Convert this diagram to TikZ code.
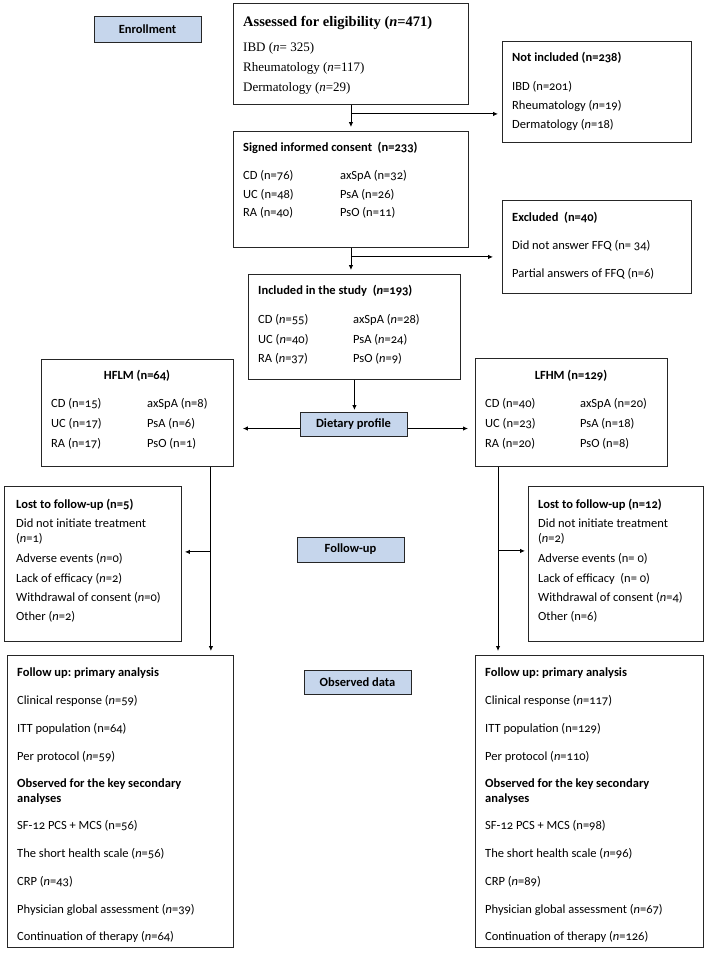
\documentclass[tikz,border=0pt]{standalone}
\usepackage{fontspec}
\newfontfamily\chartfont{Carlito}[Numbers=OldStyle]
\newfontfamily\assessfont{Liberation Serif}
\usetikzlibrary{positioning,calc,arrows.meta}
\definecolor{stageblue}{RGB}{198,214,236}
\newcommand{\nn}{\textit{n}}
\frenchspacing

\tikzset{
  box/.style={draw=black!85, line width=0.9pt, anchor=north west, inner sep=0pt},
  stage/.style={draw=black!85, line width=1pt, fill=stageblue, inner sep=0pt,
    font=\chartfont\fontsize{12.5}{15}\selectfont\bfseries},
  txt/.style={anchor=base west, inner sep=0pt, font=\chartfont\fontsize{12.5}{15}\selectfont},
  head/.style={txt, font=\chartfont\fontsize{12.5}{15}\selectfont\bfseries},
  sertxt/.style={anchor=base west, inner sep=0pt, font=\assessfont\fontsize{13}{15}\selectfont},
  flow/.style={-{Latex[length=5pt,width=4.5pt]}, line width=0.9pt, shorten >=4pt},
}

\begin{document}
\begin{tikzpicture}[x=1pt,y=-1pt]
    \useasboundingbox (0,0) rectangle (708,956);

    % enrollment
    \node[stage, minimum width=107pt, minimum height=26pt] (enrol) at (147.5,29) {Enrollment};
    \node[box, minimum width=235pt, minimum height=101pt] (assess) at (233,3) {};
    \node[sertxt, font=\assessfont\fontsize{14.5}{16}\selectfont\bfseries] (asshead) at (243,26) {Assessed for eligibility (\nn=471)};
    \foreach \y/\t [count=\i] in {51/{IBD (\nn= 325)}, 71/{Rheumatology (\nn=117)}, 91/{Dermatology (\nn=29)}}
        \node[sertxt] (ass\i) at (243,\y) {\t};

    \node[box, minimum width=189pt, minimum height=101pt] (notinc) at (502,41) {};
    \node[head] (nihead) at (512,61) {Not included (n=238)};
    \foreach \y/\t [count=\i] in {90/{IBD (n=201)}, 109/{Rheumatology (\nn=19)}, 128/{Dermatology (\nn=18)}}
        \node[txt] (ni\i) at (512,\y) {\t};

    \node[box, minimum width=235pt, minimum height=116pt] (signed) at (233,131) {};
    \node[head] (sghead) at (243,151) {Signed informed consent\ \ (n=233)};
    \node[txt] (sg1) at (243,179) {CD (n=76)};
    \node[txt] (sg2) at (243,198) {UC (n=48)};
    \node[txt] (sg3) at (243,216) {RA (n=40)};
    \node[txt] (sg4) at (340,179) {axSpA (n=32)};
    \node[txt] (sg5) at (340,198) {PsA (n=26)};
    \node[txt] (sg6) at (340,216) {PsO (n=11)};

    \node[box, minimum width=189pt, minimum height=93pt] (excl) at (502,200) {};
    \node[head] (exhead) at (512,221) {Excluded\ \ (n=40)};
    \node[txt] (ex1) at (512,249) {Did not answer FFQ (n= 34)};
    \node[txt] (ex2) at (512,277) {Partial answers of FFQ (n=6)};

    \node[box, minimum width=212pt, minimum height=105pt] (incl) at (248,274) {};
    \node[head] (inhead) at (258,294) {Included in the study\ \ (\nn=193)};
    \node[txt] (in1) at (258,323) {CD (\nn=55)};
    \node[txt] (in2) at (258,343) {UC (\nn=40)};
    \node[txt] (in3) at (258,362) {RA (\nn=37)};
    \node[txt] (in4) at (353,323) {axSpA (\nn=28)};
    \node[txt] (in5) at (353,343) {PsA (\nn=24)};
    \node[txt] (in6) at (353,362) {PsO (\nn=9)};

    % dietary profile
    \node[stage, minimum width=107pt, minimum height=24pt] (diet) at (353.5,424.5) {Dietary profile};

    \node[box, minimum width=192pt, minimum height=107pt] (hflm) at (41,359) {};
    \node[head, anchor=base] (hfhead) at (137,379) {HFLM (n=64)};
    \node[txt] (hf1) at (51,407) {CD (n=15)};
    \node[txt] (hf2) at (51,427) {UC (n=17)};
    \node[txt] (hf3) at (51,447) {RA (n=17)};
    \node[txt] (hf4) at (147,407) {axSpA (n=8)};
    \node[txt] (hf5) at (147,427) {PsA (n=6)};
    \node[txt] (hf6) at (147,447) {PsO (n=1)};

    \node[box, minimum width=192pt, minimum height=108pt] (lfhm) at (475,358) {};
    \node[head, anchor=base] (lfhead) at (571,379) {LFHM (n=129)};
    \node[txt] (lf1) at (485,407) {CD (n=40)};
    \node[txt] (lf2) at (485,427) {UC (n=23)};
    \node[txt] (lf3) at (485,447) {RA (n=20)};
    \node[txt] (lf4) at (580,407) {axSpA (n=20)};
    \node[txt] (lf5) at (580,427) {PsA (n=18)};
    \node[txt] (lf6) at (580,447) {PsO (n=8)};

    % follow-up
    \node[stage, minimum width=107pt, minimum height=25pt] (follow) at (350.5,549.5) {Follow-up};

    \node[box, minimum width=177pt, minimum height=155pt] (lostl) at (4,486) {};
    \node[head] (llhead) at (16,508) {Lost to follow-up (n=5)};
    \foreach \y/\t [count=\i] in {527/{Did not initiate treatment}, 542/{(\nn=1)}, 562/{Adverse events (\nn=0)},
        582/{Lack of efficacy (\nn=2)}, 601/{Withdrawal of consent (\nn=0)}, 620/{Other (\nn=2)}}
        \node[txt] (ll\i) at (16,\y) {\t};

    \node[box, minimum width=175pt, minimum height=155pt] (lostr) at (528,486) {};
    \node[head] (lrhead) at (538,508) {Lost to follow-up (n=12)};
    \foreach \y/\t [count=\i] in {527/{Did not initiate treatment}, 542/{(\nn=2)}, 562/{Adverse events (n= 0)},
        582/{Lack of efficacy\ \ (n= 0)}, 601/{Withdrawal of consent (\nn=4)}, 620/{Other (n=6)}}
        \node[txt] (lr\i) at (538,\y) {\t};

    % observed data
    \node[stage, minimum width=107pt, minimum height=24pt] (obs) at (357.5,682) {Observed data};

    \node[box, minimum width=226pt, minimum height=292pt] (obsl) at (7,655) {};
    \node[head] (olhead) at (17,676) {Follow up: primary analysis};
    \node[head] (olsec1) at (17,787) {Observed for the key secondary};
    \node[head] (olsec2) at (17,802) {analyses};
    \foreach \y/\t [count=\i] in {704/{Clinical response (\nn=59)}, 732/{ITT population (n=64)}, 760/{Per protocol (\nn=59)},
        829/{SF-12 PCS + MCS (n=56)}, 857/{The short health scale (\nn=56)}, 885/{CRP (\nn=43)},
        913/{Physician global assessment (\nn=39)}, 940/{Continuation of therapy (\nn=64)}}
        \node[txt] (ol\i) at (17,\y) {\t};

    \node[box, minimum width=228pt, minimum height=292pt] (obsr) at (475,655) {};
    \node[head] (orhead) at (485,676) {Follow up: primary analysis};
    \node[head] (orsec1) at (485,787) {Observed for the key secondary};
    \node[head] (orsec2) at (485,802) {analyses};
    \foreach \y/\t [count=\i] in {704/{Clinical response (\nn=117)}, 732/{ITT population (n=129)}, 760/{Per protocol (\nn=110)},
        829/{SF-12 PCS + MCS (n=98)}, 857/{The short health scale (\nn=96)}, 885/{CRP (\nn=89)},
        913/{Physician global assessment (\nn=67)}, 940/{Continuation of therapy (\nn=126)}}
        \node[txt] (or\i) at (485,\y) {\t};

    % connectors
    \coordinate (j1) at ($(assess.south)+(0,9)$);
    \coordinate (j2) at ($(signed.south)+(0,9)$);
    \draw[flow] (assess.south) -- (signed.north);
    \draw[flow] (j1) -- (j1 -| notinc.west);
    \draw[flow] (signed.south) -- (signed.south |- incl.north);
    \draw[flow, shorten >=9pt] (j2) -- (j2 -| excl.west);
    \draw[flow, shorten >=2pt] (incl.south) -- (incl.south |- diet.north);
    \draw[flow, shorten >=9pt] ([yshift=-4pt]diet.west) -- ([yshift=-4pt]diet.west -| hflm.east);
    \draw[flow, shorten >=7pt] ([yshift=-4pt]diet.east) -- ([yshift=-4pt]diet.east -| lfhm.west);

    \coordinate (hdrop) at ($(hflm.south east)+(-23,0)$);
    \coordinate (hbr) at ($(hdrop)+(0,85)$);
    \draw[flow] (hdrop) -- (hdrop |- obsl.north);
    \draw[flow, shorten >=3pt] (hbr) -- (hbr -| lostl.east);

    \coordinate (ldrop) at ($(lfhm.south west)+(23,0)$);
    \coordinate (lbr) at ($(ldrop)+(0,84)$);
    \draw[flow] (ldrop) -- (ldrop |- obsr.north);
    \draw[flow, shorten >=3pt] (lbr) -- (lbr -| lostr.west);
\end{tikzpicture}
\end{document}
